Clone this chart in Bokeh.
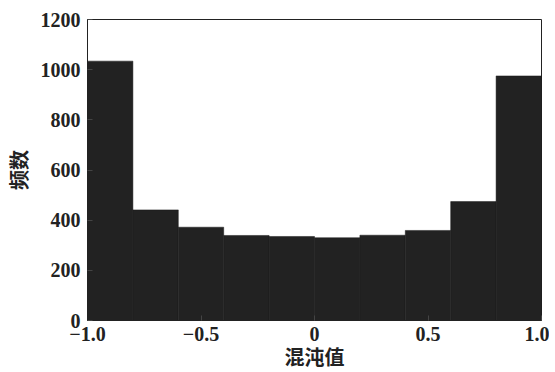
from bokeh.plotting import figure
from bokeh.models import FixedTicker, Range1d
from bokeh.embed import file_html
from bokeh.resources import INLINE

bin_left = [-1.0, -0.8, -0.6, -0.4, -0.2, 0.0, 0.2, 0.4, 0.6, 0.8]
bin_right = [-0.8, -0.6, -0.4, -0.2, 0.0, 0.2, 0.4, 0.6, 0.8, 1.0]
counts = [1034, 441, 372, 339, 335, 330, 340, 359, 474, 975]
x_ticks = [-1.0, -0.5, 0.0, 0.5, 1.0]
x_tick_labels = ["\u22121.0", "\u22120.5", "0", "0.5", "1.0"]
y_ticks = [0, 200, 400, 600, 800, 1000, 1200]

p = figure(frame_width=454, frame_height=301, output_backend="svg", toolbar_location=None,
           x_range=Range1d(-1.0, 1.0), y_range=Range1d(0, 1200),
           min_border_left=83, min_border_right=8, min_border_top=19, min_border_bottom=30)

p.quad(left=bin_left, right=bin_right, bottom=0, top=counts,
       fill_color="#222222", line_color="#1a1a1a", line_width=0.5)

p.xgrid.visible = False
p.ygrid.visible = False
p.outline_line_color = "#222222"
p.outline_line_width = 1

serif = "Liberation Serif"
for ax in (p.xaxis[0], p.yaxis[0]):
    ax.major_label_text_font = serif
    ax.major_label_text_font_style = "bold"
    ax.major_label_text_font_size = "20px"
    ax.major_label_text_color = "#222222"
    ax.axis_line_color = "#222222"
    ax.major_tick_in = 5
    ax.major_tick_out = 0
    ax.major_tick_line_color = "#444444"
    ax.minor_tick_line_color = None
    ax.axis_label_text_font = "Noto Sans CJK SC"
    ax.axis_label_text_font_style = "bold"
    ax.axis_label_text_font_size = "20px"
    ax.axis_label_text_color = "#222222"

p.xaxis.ticker = FixedTicker(ticks=x_ticks)
p.xaxis.major_label_overrides = {t: l for t, l in zip(x_ticks, x_tick_labels)}
p.xaxis.major_label_standoff = 6
p.xaxis.axis_label = "混沌值"
p.xaxis.axis_label_standoff = -2

p.yaxis.ticker = FixedTicker(ticks=y_ticks)
p.yaxis.major_label_standoff = 7
p.yaxis.axis_label = "频数"
p.yaxis.axis_label_standoff = 5

open("out.html", "w").write(file_html(p, INLINE))
